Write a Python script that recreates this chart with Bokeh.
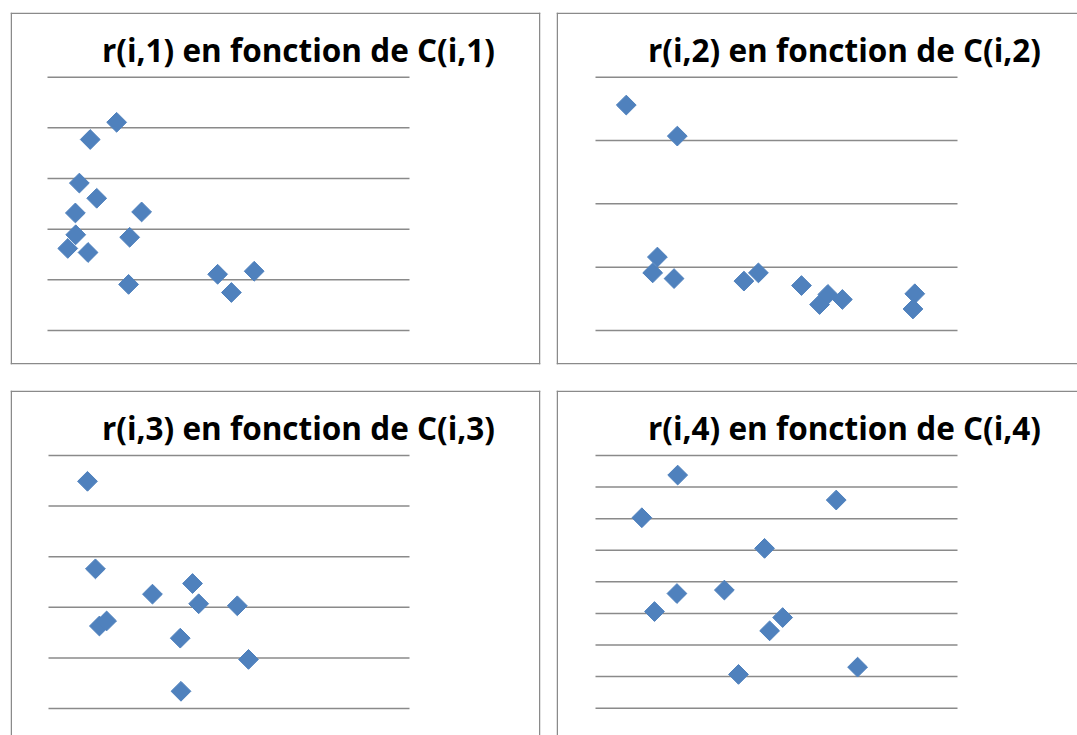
import numpy as np
from bokeh.plotting import figure
from bokeh.layouts import column, row
from bokeh.models import Label, Range1d, Span
from bokeh.embed import file_html
from bokeh.resources import INLINE

# ---------------- data ----------------
titles = [
    "r(i,1) en fonction de C(i,1)",
    "r(i,2) en fonction de C(i,2)",
    "r(i,3) en fonction de C(i,3)",
    "r(i,4) en fonction de C(i,4)",
]

c1 = [1.91, 1.18, 0.88, 1.36, 0.77, 2.60, 0.78, 2.27, 0.56, 1.12, 2.24, 4.70, 5.08, 5.71]
r1 = [4.11, 3.77, 2.91, 2.61, 2.32, 2.34, 1.89, 1.84, 1.62, 1.54, 0.91, 1.11, 0.75, 1.17]

c2 = [0.85, 2.26, 1.71, 1.58, 2.17, 4.10, 4.50, 5.69, 6.19, 6.42, 6.82, 8.82, 8.77]
r2 = [3.56, 3.07, 1.16, 0.91, 0.82, 0.78, 0.91, 0.71, 0.41, 0.57, 0.49, 0.58, 0.34]

c3 = [1.08, 1.30, 2.88, 3.99, 4.16, 5.23, 1.41, 1.61, 3.65, 5.54, 3.67]
r3 = [4.49, 2.76, 2.26, 2.47, 2.07, 2.03, 1.63, 1.73, 1.39, 0.97, 0.34]

c4 = [2.27, 1.28, 6.65, 4.67, 2.25, 3.56, 1.63, 5.17, 4.81, 3.95, 7.24]
r4 = [7.38, 6.03, 6.59, 5.06, 3.63, 3.74, 3.06, 2.87, 2.45, 1.07, 1.30]

y_ticks1 = [0, 1, 2, 3, 4, 5]
y_ticks2 = [0, 1, 2, 3, 4]
y_ticks3 = [0, 1, 2, 3, 4, 5]
y_ticks4 = [0, 1, 2, 3, 4, 5, 6, 7, 8]

x_min, x_max = 0, 10

# ---------------- style ----------------
MARKER = "#4F81BD"
GRID = "#8A8A8A"
BORDER = "#8A8A8A"
TITLE_FONT = "Open Sans"
TITLE_SIZE = "31.5px"

# ---------------- layout (page pixels) ----------------
# canvas: (x0, y0, w, h); borders: (left, right, top, bottom); grid box: (gx0, gy0, gx1, gy1)
# sides: which panel border sides are visible in the window
panels = [
    dict(canvas=(0, 0, 548, 378), borders=(10, 8, 12, 14), grid=(47, 76.7, 409, 330),
         sides=("left", "right", "top", "bottom")),
    dict(canvas=(548, 0, 529, 378), borders=(8, 0, 12, 14), grid=(595, 76.7, 957, 330),
         sides=("left", "top", "bottom")),
    dict(canvas=(0, 378, 548, 357), borders=(10, 8, 12, 0), grid=(48, 455, 409, 708),
         sides=("left", "right", "top")),
    dict(canvas=(548, 378, 529, 357), borders=(8, 0, 12, 0), grid=(595, 455, 957, 707.7),
         sides=("left", "top")),
]
TITLE_DX = 288
TITLE_DY = 37
BORDER_W = 1.5


def make_panel(title, xs, ys, yticks, spec):
    cx0, cy0, w, h = spec["canvas"]
    bl, br, bt, bb = spec["borders"]
    gx0, gy0, gx1, gy1 = spec["grid"]
    fx0, fx1 = cx0 + bl, cx0 + w - br
    fy0, fy1 = cy0 + bt, cy0 + h - bb
    ymin, ymax = min(yticks), max(yticks)
    sx = (gx1 - gx0) / (x_max - x_min)
    sy = (gy1 - gy0) / (ymax - ymin)
    x0d = x_min - (gx0 - fx0) / sx
    x1d = x_max + (fx1 - gx1) / sx
    y0d = ymin - (fy1 - gy1) / sy
    y1d = ymax + (gy0 - fy0) / sy

    p = figure(width=w, height=h, x_range=Range1d(x0d, x1d), y_range=Range1d(y0d, y1d),
               x_axis_location=None, y_axis_location=None,
               toolbar_location=None, output_backend="svg",
               min_border_left=bl, min_border_right=br,
               min_border_top=bt, min_border_bottom=bb,
               background_fill_color="white", border_fill_color="white")
    p.xgrid.visible = False
    p.ygrid.visible = False
    p.outline_line_color = None

    # panel border (only the sides that fall inside the window)
    hx = (BORDER_W / 2) / sx
    hy = (BORDER_W / 2) / sy
    side_loc = {
        "left": (x0d + hx, "height"),
        "right": (x1d - hx, "height"),
        "top": (y1d - hy, "width"),
        "bottom": (y0d + hy, "width"),
    }
    for s in spec["sides"]:
        loc, dim = side_loc[s]
        p.add_layout(Span(location=loc, dimension=dim, line_color=BORDER,
                          line_width=BORDER_W))

    # horizontal gridlines spanning the plot area
    p.segment(x0=[x_min] * len(yticks), y0=yticks,
              x1=[x_max] * len(yticks), y1=yticks,
              line_color=GRID, line_width=1.5)

    p.scatter(xs, ys, marker="square", size=14, angle=np.pi / 4,
              fill_color=MARKER, line_color=MARKER)

    # title inside the bordered panel
    tx_px = fx0 + TITLE_DX
    ty_px = fy0 + TITLE_DY
    tx = x_min + (tx_px - gx0) / sx
    ty = ymin + (gy1 - ty_px) / sy
    p.add_layout(Label(x=tx, y=ty, text=title, text_font=TITLE_FONT,
                       text_font_style="bold", text_font_size=TITLE_SIZE,
                       text_align="center", text_baseline="alphabetic",
                       text_color="black"))
    return p


p1 = make_panel(titles[0], c1, r1, y_ticks1, panels[0])
p2 = make_panel(titles[1], c2, r2, y_ticks2, panels[1])
p3 = make_panel(titles[2], c3, r3, y_ticks3, panels[2])
p4 = make_panel(titles[3], c4, r4, y_ticks4, panels[3])

layout = column(row(p1, p2), row(p3, p4))

open("out.html", "w").write(file_html(layout, INLINE))
